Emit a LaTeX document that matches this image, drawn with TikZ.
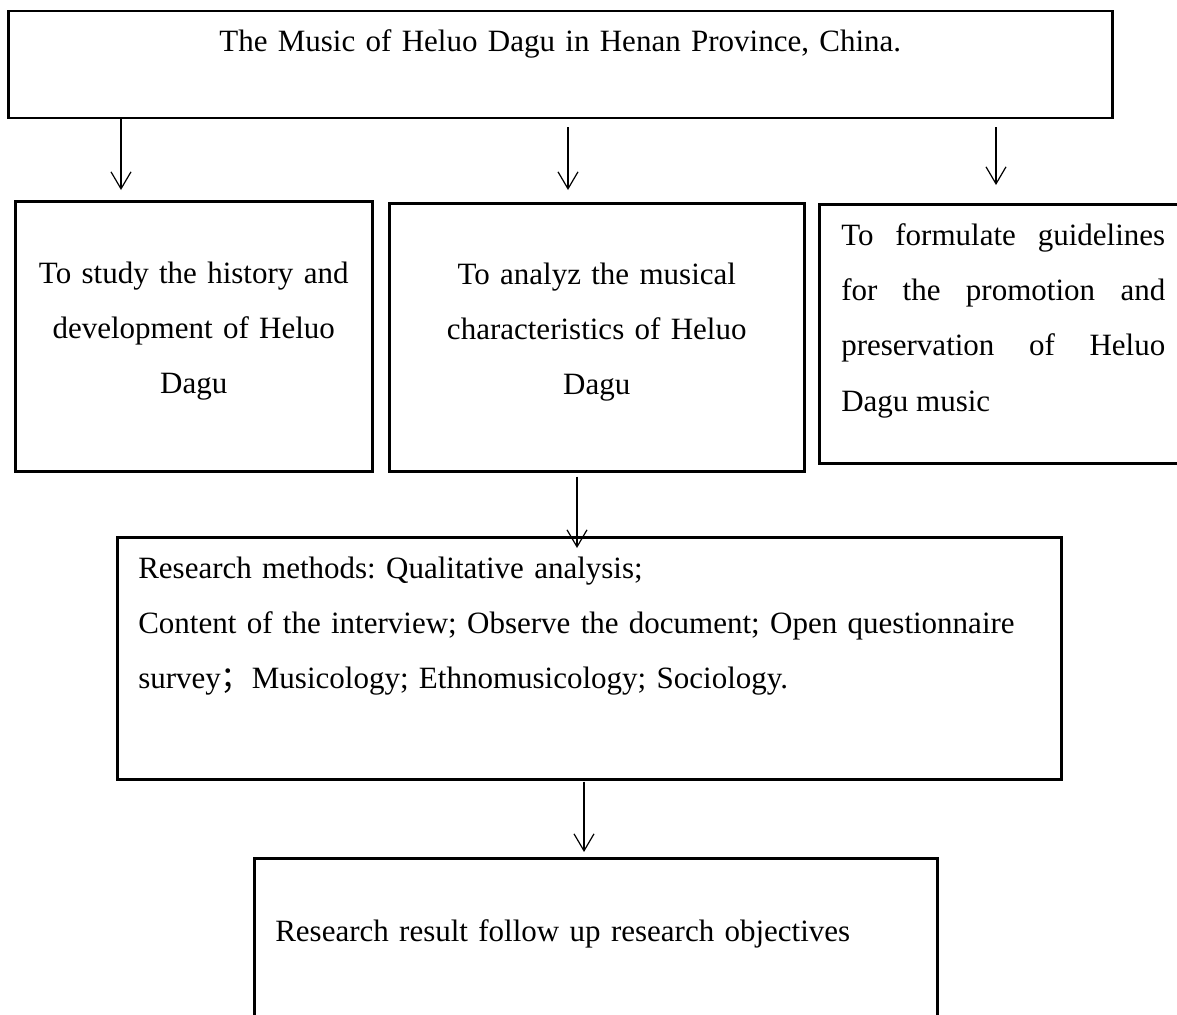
\documentclass[tikz,border=0pt]{standalone}
\usepackage{fontspec}
\setmainfont{Liberation Serif}
\newfontfamily\cjk{Noto Sans CJK SC}
\usepackage{tikz}
\usetikzlibrary{arrows.meta}
\newcommand{\jline}[1]{\makebox[\linewidth][s]{#1}}
\frenchspacing

\begin{document}
\begin{tikzpicture}[
    x=1pt, y=-1pt,
    box/.style={rectangle, draw=black, line width=2.5pt, anchor=north west, inner ysep=0pt, font=\fontsize{31}{55.3}\selectfont},
    arrow/.style={-{Straight Barb[length=17pt, width=20pt]}, line width=1.2pt}
]
\useasboundingbox (0,0) rectangle (1177,1014);
\clip (0,0) rectangle (1177,1014);

% Topic
\node[box, inner xsep=0pt, text width=1104pt, align=center, text height=40pt, text depth=67pt] (music) at (7,10) {The Music of Heluo Dagu in Henan Province, China.};

% Objectives
\node[box, inner xsep=0pt, text width=357pt, align=center, text height=82pt, text depth=188pt] (history) at (14,200) {To study the history and\\ development of Heluo\\ Dagu};

\node[box, inner xsep=0pt, text width=415pt, align=center, text height=81pt, text depth=187pt] (musical) at (388,202) {To analyz the musical\\ characteristics of Heluo\\ Dagu};

\node[box, inner xsep=22pt, text width=324pt, align=justify, text height=41pt, text depth=218pt] (guide) at (818,203) {\jline{To formulate guidelines}\\ \jline{for the promotion and}\\ \jline{preservation of Heluo}\\ Dagu music};

% Arrows to objectives
\draw[arrow] ([xshift=114pt]music.south west) -- ([xshift=107pt, yshift=10pt]history.north west);
\draw[arrow] ([xshift=561pt, yshift=-8pt]music.south west) -- ([xshift=180pt, yshift=12pt]musical.north west);
\draw[arrow] ([xshift=989pt, yshift=-8pt]music.south west) -- ([xshift=178pt, yshift=18pt]guide.north west);

% Methods
\node[box, inner xsep=21pt, text width=902pt, align=left, text height=41pt, text depth=201pt] (methods) at (116,536) {Research methods: Qualitative analysis;\\ Content of the interview; Observe the document; Open questionnaire\\ survey{\cjk ；}Musicology; Ethnomusicology; Sociology.};

\draw[arrow] ([xshift=189pt, yshift=-4pt]musical.south west) -- ([xshift=461pt, yshift=-12pt]methods.north west);

% Result
\node[box, inner xsep=21pt, text width=641pt, align=left, text height=83pt, text depth=100pt] (result) at (253,857) {Research result follow up research objectives};

\draw[arrow] ([xshift=468pt, yshift=-1pt]methods.south west) -- ([xshift=331pt, yshift=5pt]result.north west);

\end{tikzpicture}
\end{document}
